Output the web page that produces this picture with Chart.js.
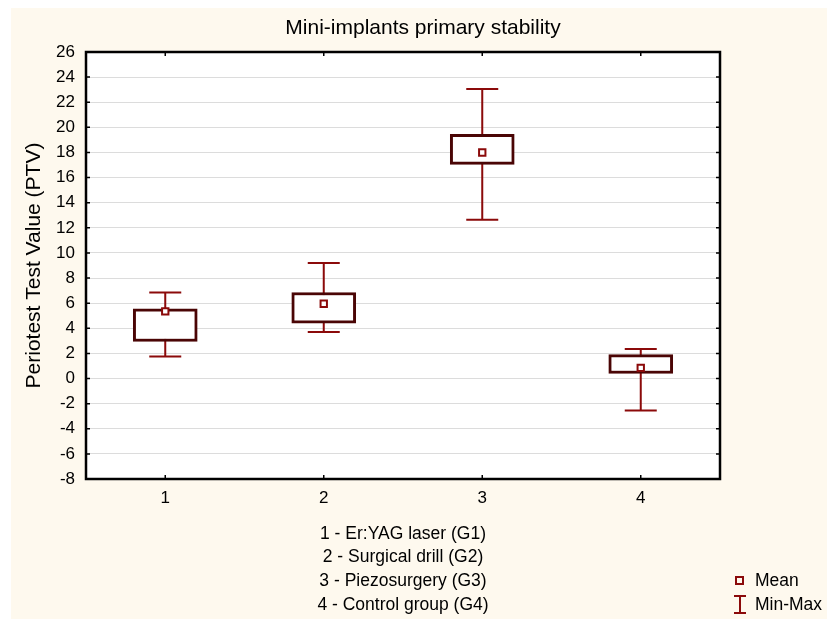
<!DOCTYPE html>
<html>
<head>
<meta charset="utf-8">
<script src="https://cdn.jsdelivr.net/npm/chart.js@4/dist/chart.umd.min.js"></script>
<style>
  html, body { margin: 0; padding: 0; background: #ffffff; }
  #wrap { width: 833px; height: 619px; }
</style>
</head>
<body>
<div id="wrap"><canvas id="boxChart"></canvas></div>
<script>
// Dados
const groups = ['1', '2', '3', '4'];
const groupNames = ['1 - Er:YAG laser (G1)', '2 - Surgical drill (G2)', '3 - Piezosurgery (G3)', '4 - Control group (G4)'];
const minVals  = [1.75, 3.7, 12.65, -2.55];
const q1Vals   = [2.95, 4.4, 17.05, 0.4];
const q3Vals   = [5.55, 6.85, 19.45, 1.9];
const maxVals  = [6.85, 9.2, 23.05, 2.35];
const meanVals = [5.35, 5.95, 18.0, 0.85];
const yTicks   = [-8, 26, 2]; // min, max, passo

const whiskerColor = '#8b0a0a';
const boxColor = '#4a0505';
const beige = '#fef9ee';
const fontFam = '"Liberation Sans", Arial, sans-serif';

// Fundo bege, título, legenda e linhas de texto embaixo
const decor = {
    id: 'decor',
    beforeDraw(chart) {
        const c = chart.ctx;
        c.save();
        c.fillStyle = beige;
        c.fillRect(11, 8, 816, 611);
        const a = chart.chartArea;
        c.fillStyle = '#ffffff';
        c.fillRect(a.left, a.top, a.right - a.left, a.bottom - a.top);
        c.restore();
    },
    afterDraw(chart) {
        const c = chart.ctx;
        const a = chart.chartArea;
        const mid = (a.left + a.right) / 2;
        c.save();
        c.fillStyle = '#000';
        c.textBaseline = 'middle';
        c.textAlign = 'center';
        c.font = '21px ' + fontFam;
        c.fillText('Mini-implants primary stability', 423, 28);
        c.font = '17.5px ' + fontFam;
        const ys = [534, 557, 581, 605];
        groupNames.forEach((t, i) => c.fillText(t, mid, ys[i]));

        // legenda
        c.textAlign = 'left';
        c.fillText('Mean', 755, 581);
        c.fillText('Min-Max', 755, 605);
        c.strokeStyle = whiskerColor;
        c.lineWidth = 2;
        c.strokeRect(736, 577, 7, 7);
        c.beginPath();
        c.moveTo(734, 596); c.lineTo(746, 596);
        c.moveTo(740, 596); c.lineTo(740, 613);
        c.moveTo(734, 613); c.lineTo(746, 613);
        c.stroke();

        // moldura e ticks internos
        const x = chart.scales.x, y = chart.scales.y;
        c.strokeStyle = '#000';
        c.lineWidth = 1.5;
        c.beginPath();
        for (let v = yTicks[0]; v <= yTicks[1]; v += yTicks[2]) {
            const py = y.getPixelForValue(v);
            c.moveTo(a.left, py); c.lineTo(a.left + 4, py);
            c.moveTo(a.right, py); c.lineTo(a.right - 4, py);
        }
        groups.forEach((g, i) => {
            const px = x.getPixelForValue(i);
            c.moveTo(px, a.top); c.lineTo(px, a.top + 4);
            c.moveTo(px, a.bottom); c.lineTo(px, a.bottom - 4);
        });
        c.stroke();
        c.lineWidth = 2.5;
        c.strokeRect(a.left, a.top, a.right - a.left, a.bottom - a.top);
        c.restore();
    }
};

// Bigodes (min-max) desenhados antes das caixas
const whiskers = {
    id: 'whiskers',
    beforeDatasetsDraw(chart) {
        const c = chart.ctx;
        const x = chart.scales.x, y = chart.scales.y;
        c.save();
        c.strokeStyle = whiskerColor;
        c.lineWidth = 2;
        groups.forEach((g, i) => {
            const px = x.getPixelForValue(i);
            const pMin = y.getPixelForValue(minVals[i]);
            const pMax = y.getPixelForValue(maxVals[i]);
            c.beginPath();
            c.moveTo(px, pMin); c.lineTo(px, pMax);
            c.moveTo(px - 16, pMin); c.lineTo(px + 16, pMin);
            c.moveTo(px - 16, pMax); c.lineTo(px + 16, pMax);
            c.stroke();
        });
        c.restore();
    }
};

const ctx = document.getElementById('boxChart').getContext('2d');
const chart = new Chart(ctx, {
    data: {
        labels: groups,
        datasets: [
            {
                type: 'scatter',
                label: 'Mean',
                data: meanVals.map((v, i) => ({ x: i, y: v })),
                pointStyle: 'rect',
                pointRadius: 4.5,
                backgroundColor: '#ffffff',
                borderColor: whiskerColor,
                borderWidth: 2,
                order: 0
            },
            {
                type: 'bar',
                label: 'Box',
                data: q1Vals.map((v, i) => [v, q3Vals[i]]),
                backgroundColor: '#ffffff',
                borderColor: boxColor,
                borderWidth: 3,
                borderSkipped: false,
                barThickness: 64,
                order: 1
            }
        ]
    },
    options: {
        responsive: true,
        maintainAspectRatio: false,
        animation: false,
        devicePixelRatio: 1,
        layout: { padding: { top: 52, right: 113, bottom: 0, left: 0 } },
        plugins: {
            legend: { display: false },
            tooltip: { enabled: false }
        },
        scales: {
            x: {
                type: 'category',
                offset: true,
                grid: { display: false, drawTicks: false },
                border: { display: false },
                ticks: {
                    padding: 9,
                    color: '#000',
                    font: { family: fontFam, size: 17 }
                },
                afterFit(scale) { scale.height = 140; }
            },
            y: {
                min: yTicks[0],
                max: yTicks[1],
                grid: { color: '#dcdcdc', lineWidth: 1, drawTicks: false },
                border: { display: false },
                ticks: {
                    stepSize: yTicks[2],
                    padding: 11,
                    color: '#000',
                    font: { family: fontFam, size: 17 }
                },
                title: {
                    display: true,
                    text: 'Periotest Test Value (PTV)',
                    color: '#000',
                    padding: { top: 22, bottom: 0 },
                    font: { family: fontFam, size: 21 }
                },
                afterFit(scale) { scale.width = 86; }
            }
        }
    },
    plugins: [decor, whiskers]
});
</script>
</body>
</html>
